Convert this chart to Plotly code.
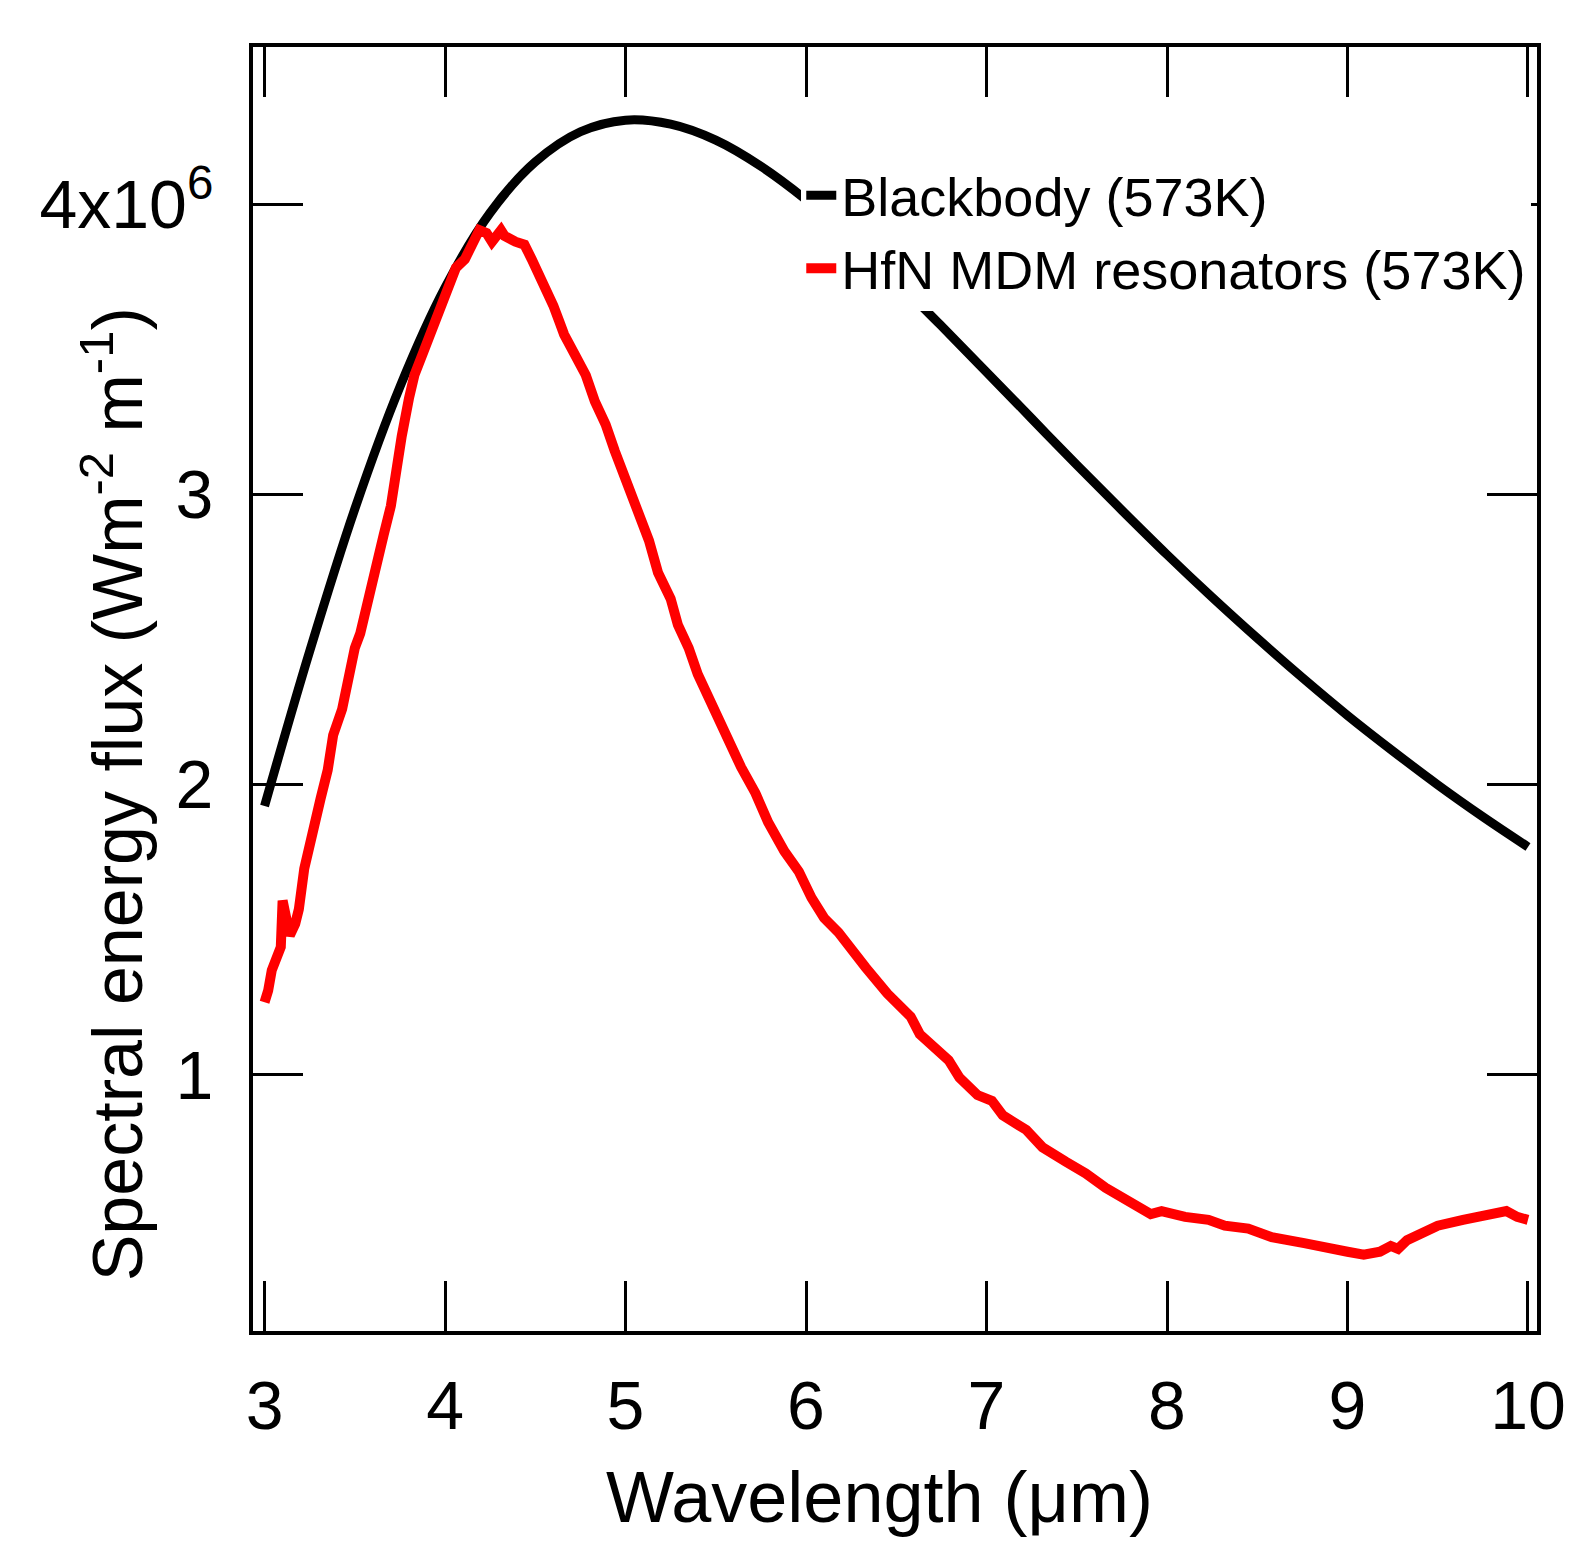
import plotly.graph_objects as go

# Blackbody spectrum at 573 K, values in units of 1e6 W m^-2 m^-1
bb_wavelength = [3.0, 3.25, 3.5, 3.75, 4.0, 4.25, 4.5, 4.75, 5.0, 5.25, 5.5,
                 5.75, 6.0, 6.25, 6.5, 6.75, 7.0, 7.25, 7.5, 7.75, 8.0,
                 8.25, 8.5, 8.75, 9.0, 9.25, 9.5, 9.75, 10.0]
bb_flux = [1.926, 2.459, 2.949, 3.370, 3.712, 3.970, 4.145, 4.249, 4.289,
           4.275, 4.220, 4.130, 4.015, 3.881, 3.735, 3.580, 3.421, 3.261,
           3.101, 2.945, 2.792, 2.645, 2.504, 2.368, 2.238, 2.116, 1.999,
           1.889, 1.785]

hfn_wavelength = [3.00, 3.02, 3.04, 3.07, 3.09, 3.10, 3.12, 3.14, 3.17, 3.19,
                  3.22, 3.25, 3.28, 3.31, 3.35, 3.38, 3.43, 3.46, 3.50, 3.53,
                  3.57, 3.60, 3.63, 3.66, 3.70, 3.72, 3.76, 3.80, 3.83, 3.88,
                  3.93, 3.97, 4.01, 4.06, 4.11, 4.15, 4.19, 4.23, 4.26, 4.31,
                  4.33, 4.39, 4.44, 4.48, 4.52, 4.55, 4.60, 4.63, 4.66, 4.72,
                  4.78, 4.83, 4.89, 4.94, 5.01, 5.08, 5.13, 5.18, 5.25, 5.29,
                  5.35, 5.40, 5.46, 5.52, 5.56, 5.64, 5.72, 5.79, 5.88, 5.96,
                  6.03, 6.10, 6.18, 6.25, 6.33, 6.45, 6.58, 6.63, 6.70, 6.79,
                  6.85, 6.95, 7.03, 7.09, 7.22, 7.31, 7.44, 7.55, 7.66, 7.75,
                  7.84, 7.91, 7.97, 8.10, 8.23, 8.32, 8.45, 8.58, 8.76, 8.89,
                  9.00, 9.09, 9.18, 9.24, 9.28, 9.33, 9.42, 9.50, 9.64, 9.72,
                  9.79, 9.88, 9.94, 10.00]
hfn_flux = [1.25, 1.29, 1.36, 1.42, 1.44, 1.60, 1.55, 1.48, 1.52, 1.57,
            1.71, 1.80, 1.88, 1.95, 2.05, 2.17, 2.26, 2.36, 2.47, 2.52,
            2.63, 2.72, 2.81, 2.86, 2.96, 3.06, 3.20, 3.33, 3.41, 3.49,
            3.57, 3.64, 3.70, 3.78, 3.81, 3.87, 3.91, 3.90, 3.87, 3.91,
            3.89, 3.87, 3.86, 3.81, 3.76, 3.71, 3.65, 3.60, 3.55, 3.48,
            3.41, 3.32, 3.24, 3.15, 3.04, 2.93, 2.84, 2.73, 2.64, 2.55,
            2.47, 2.38, 2.30, 2.22, 2.15, 2.06, 1.97, 1.87, 1.77, 1.70,
            1.61, 1.54, 1.49, 1.43, 1.37, 1.28, 1.20, 1.14, 1.10, 1.05,
            0.99, 0.93, 0.91, 0.86, 0.81, 0.75, 0.70, 0.66, 0.61, 0.58,
            0.55, 0.52, 0.53, 0.51, 0.50, 0.48, 0.47, 0.44, 0.42, 0.40,
            0.39, 0.38, 0.39, 0.41, 0.40, 0.43, 0.46, 0.48, 0.50, 0.51,
            0.52, 0.53, 0.51, 0.50]

x_ticks = [3, 4, 5, 6, 7, 8, 9, 10]
y_ticks = [1, 2, 3, 4]
y_ticktext = ["1", "2", "3", "4x10<sup>6</sup>"]

FONT = "Arial, Liberation Sans, sans-serif"

fig = go.Figure()
fig.add_trace(go.Scatter(
    x=bb_wavelength, y=bb_flux, mode="lines", name="Blackbody (573K)",
    line=dict(color="black", width=9, shape="spline", smoothing=1.0),
))
fig.add_trace(go.Scatter(
    x=hfn_wavelength, y=hfn_flux, mode="lines", name="HfN MDM resonators (573K)",
    line=dict(color="#ff0000", width=10),
))

axis_common = dict(
    showline=True, linecolor="black", linewidth=4, mirror="ticks",
    ticks="inside", ticklen=50, tickwidth=3, tickcolor="black",
    showgrid=False, zeroline=False,
    tickfont=dict(family=FONT, size=68, color="black"),
)

fig.update_xaxes(range=[2.936, 10.05], tickvals=x_ticks, ticklabelstandoff=12,
                 **axis_common)
fig.update_yaxes(range=[0.117, 4.541], tickvals=y_ticks, ticktext=y_ticktext,
                 ticklabelstandoff=22, **axis_common)

fig.add_annotation(
    text="Wavelength (\u03bcm)",
    xref="paper", yref="paper", x=0.488, y=-0.129,
    xanchor="center", yanchor="middle", showarrow=False,
    font=dict(family=FONT, size=72, color="black"),
)
fig.add_annotation(
    text="Spectral energy flux (Wm<sup>-2</sup> m<sup>-1</sup>)",
    xref="paper", yref="paper", x=-0.109, y=0.418,
    xanchor="center", yanchor="middle", textangle=-90, showarrow=False,
    font=dict(family=FONT, size=70, color="black"),
)

fig.update_layout(
    width=1595, height=1568,
    margin=dict(l=245, r=66, t=39, b=245),
    plot_bgcolor="white", paper_bgcolor="white",
    showlegend=True,
    legend=dict(
        x=0.427, y=0.917, xanchor="left", yanchor="top",
        bgcolor="white", borderwidth=0,
        font=dict(family=FONT, size=54, color="black"),
        tracegroupgap=0,
    ),
)

fig.write_html("out.html")
